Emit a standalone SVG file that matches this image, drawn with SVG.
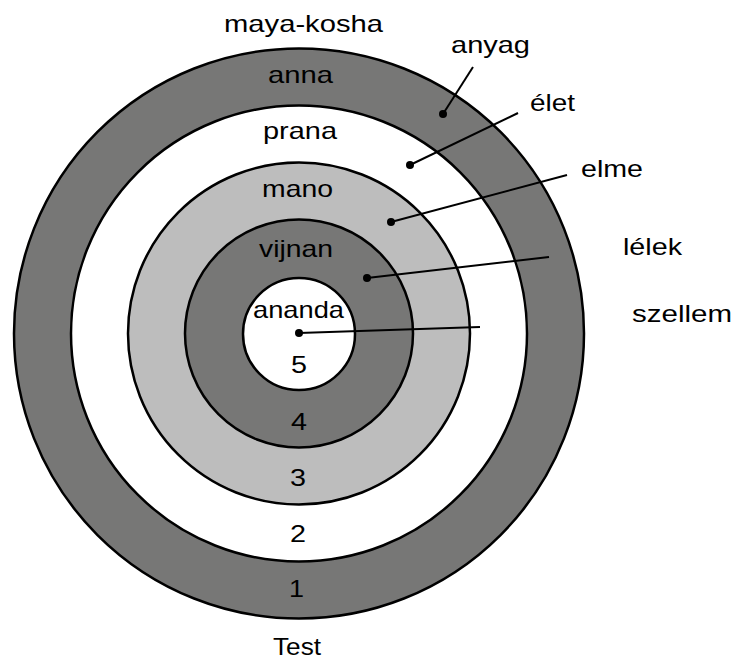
<svg xmlns="http://www.w3.org/2000/svg" width="735" height="662" viewBox="0 0 735 662">
  <style>
    .ring { stroke: #000; stroke-width: 2.5; }
    .dark { fill: #777776; }
    .light { fill: #bdbdbd; }
    .white { fill: #fff; }
    .lead { stroke: #000; stroke-width: 2; fill: none; }
    .dot { fill: #000; }
    text { font-family: "Liberation Sans", Arial, sans-serif; font-size: 24px; fill: #000; }
  </style>
  <rect width="735" height="662" fill="#fff"/>

  <!-- concentric sheaths, outermost first -->
  <g id="anna">
    <circle class="ring dark" cx="299" cy="333.5" r="285"/>
  </g>
  <g id="prana">
    <circle class="ring white" cx="299" cy="333.5" r="228"/>
  </g>
  <g id="mano">
    <circle class="ring light" cx="299" cy="333.5" r="171"/>
  </g>
  <g id="vijnan">
    <circle class="ring dark" cx="299" cy="333.5" r="114"/>
  </g>
  <g id="ananda">
    <circle class="ring white" cx="299" cy="334" r="56"/>
  </g>

  <!-- leader lines to the outer labels -->
  <g id="connectors">
    <line class="lead" x1="443" y1="114" x2="473" y2="67"/>
    <circle class="dot" cx="443" cy="114" r="4"/>
    <line class="lead" x1="410" y1="165" x2="518" y2="113"/>
    <circle class="dot" cx="410" cy="165" r="4"/>
    <line class="lead" x1="391" y1="222" x2="567" y2="175"/>
    <circle class="dot" cx="391" cy="222" r="4"/>
    <line class="lead" x1="367" y1="278" x2="549" y2="257"/>
    <circle class="dot" cx="367" cy="278" r="4"/>
    <line class="lead" x1="299" y1="333" x2="480" y2="327"/>
    <circle class="dot" cx="299" cy="333" r="4"/>
  </g>

  <!-- sheath names, glyphs widened to the set widths -->
  <g id="labels">
    <text x="224" y="32" textLength="159" lengthAdjust="spacingAndGlyphs">maya-kosha</text>
    <text x="268" y="83" textLength="65" lengthAdjust="spacingAndGlyphs">anna</text>
    <text x="263" y="139" textLength="74" lengthAdjust="spacingAndGlyphs">prana</text>
    <text x="262" y="197" textLength="71" lengthAdjust="spacingAndGlyphs">mano</text>
    <text x="259" y="257" textLength="74" lengthAdjust="spacingAndGlyphs">vijnan</text>
    <text x="253" y="318" textLength="91" lengthAdjust="spacingAndGlyphs">ananda</text>
    <text x="291" y="373" textLength="16" lengthAdjust="spacingAndGlyphs">5</text>
    <text x="291" y="430" textLength="16" lengthAdjust="spacingAndGlyphs">4</text>
    <text x="290" y="486" textLength="16" lengthAdjust="spacingAndGlyphs">3</text>
    <text x="290" y="542" textLength="16" lengthAdjust="spacingAndGlyphs">2</text>
    <text x="289" y="597" textLength="15" lengthAdjust="spacingAndGlyphs">1</text>
    <text x="273" y="655" textLength="48" lengthAdjust="spacingAndGlyphs">Test</text>
    <text x="451" y="53" textLength="79" lengthAdjust="spacingAndGlyphs">anyag</text>
    <text x="530" y="111" textLength="45" lengthAdjust="spacingAndGlyphs">élet</text>
    <text x="581" y="177" textLength="62" lengthAdjust="spacingAndGlyphs">elme</text>
    <text x="623" y="255" textLength="59" lengthAdjust="spacingAndGlyphs">lélek</text>
    <text x="632" y="322" textLength="100" lengthAdjust="spacingAndGlyphs">szellem</text>
  </g>
</svg>
